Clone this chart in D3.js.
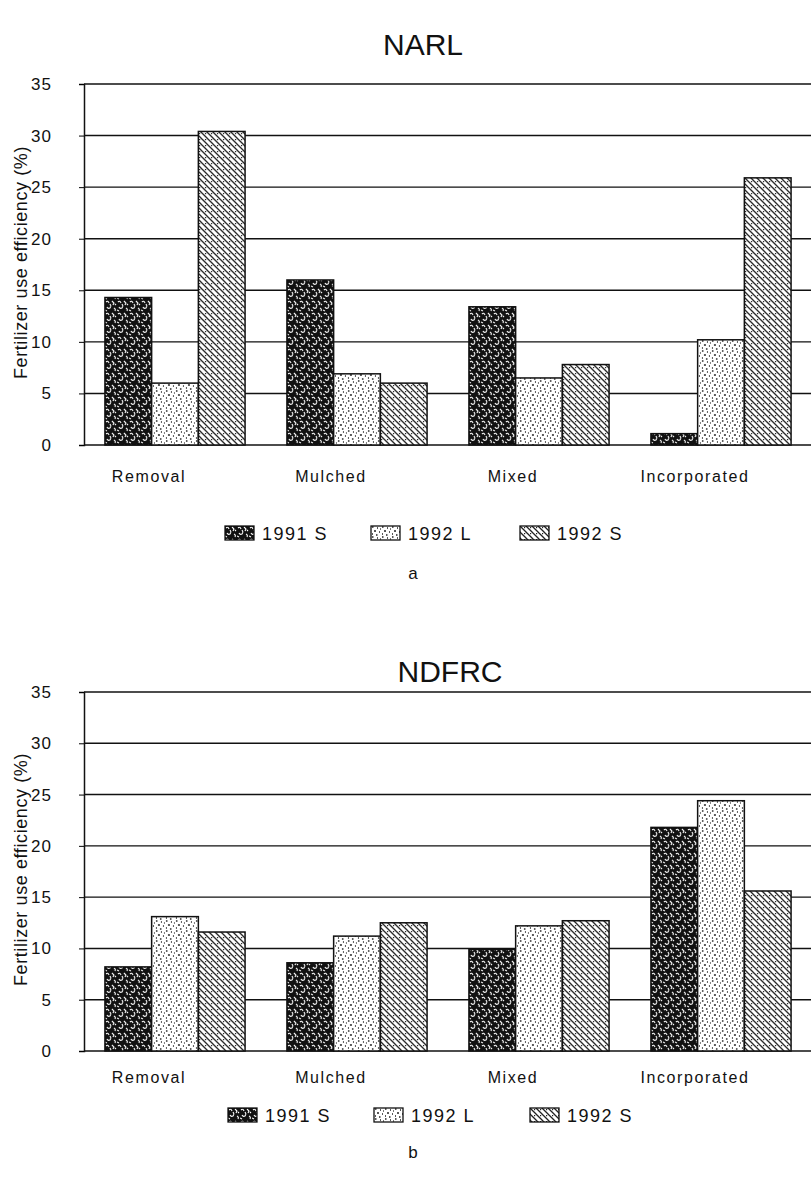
<!DOCTYPE html>
<html lang="en">
<head>
<meta charset="utf-8">
<title>Fertilizer use efficiency</title>
<script src="https://d3js.org/d3.v7.min.js"></script>
<style>
  body { margin: 0; background: #fff; }
  text { font-family: "Liberation Sans", Arial, sans-serif; fill: #111; }
</style>
</head>
<body>
<script>
// categories and series
var categories = ["Removal", "Mulched", "Mixed", "Incorporated"];
var seriesNames = ["1991 S", "1992 L", "1992 S"];
var yTicks = [0, 5, 10, 15, 20, 25, 30, 35];

// panel a: NARL
var narl1991S = [14.3, 16.0, 13.4, 1.1];
var narl1992L = [6.0, 6.9, 6.5, 10.2];
var narl1992S = [30.4, 6.0, 7.8, 25.9];

// panel b: NDFRC
var ndfrc1991S = [8.2, 8.6, 9.9, 21.8];
var ndfrc1992L = [13.1, 11.2, 12.2, 24.4];
var ndfrc1992S = [11.6, 12.5, 12.7, 15.6];

var w = 811, h = 1185;
var left = 84, right = 812;

var svg = d3.select("body").append("svg").attr("width", w).attr("height", h);
svg.append("rect").attr("width", w).attr("height", h).attr("fill", "white");

// fill patterns, roughly like the scanned textures
var defs = svg.append("defs");

var p1 = defs.append("pattern").attr("id", "pat0").attr("patternUnits", "userSpaceOnUse")
  .attr("width", 12).attr("height", 12);
p1.append("rect").attr("width", 12).attr("height", 12).attr("fill", "#111");
p1.append("path").attr("d", "M1 2 q2 -2 3 1 M7 1 l2 2 l-1 2 M2 7 q1 2 3 1 l1 -2 M9 8 q2 1 1 3 M5 4 l1 2 M0 10 l2 1 M10 4 l1 1")
  .attr("stroke", "white").attr("stroke-width", 1.1).attr("fill", "none");

var p2 = defs.append("pattern").attr("id", "pat1").attr("patternUnits", "userSpaceOnUse")
  .attr("width", 10).attr("height", 10);
p2.append("rect").attr("width", 10).attr("height", 10).attr("fill", "white");
p2.append("path").attr("d", "M1 1 h1.5 M6 2 h1 M3 5 h2 M8 6 h1 M1 8 h1 M5 9 h1.5 M9 3 h0.8")
  .attr("stroke", "#222").attr("stroke-width", 1.3);

var p3 = defs.append("pattern").attr("id", "pat2").attr("patternUnits", "userSpaceOnUse")
  .attr("width", 6).attr("height", 6);
p3.append("rect").attr("width", 6).attr("height", 6).attr("fill", "white");
p3.append("path").attr("d", "M-1 -1 L7 7 M-1 5 L1 7 M5 -1 L7 1")
  .attr("stroke", "#222").attr("stroke-width", 1.3);
p3.append("rect").attr("x", 4).attr("y", 1).attr("width", 1.2).attr("height", 1.2).attr("fill", "#222");

var panels = [
  { title: "NARL", tag: "a", titleX: 423, top: 84, bottom: 445, titleY: 55, labelY: 482, legendY: 540, tagY: 579,
    series: [narl1991S, narl1992L, narl1992S] },
  { title: "NDFRC", tag: "b", titleX: 450, top: 692, bottom: 1051, titleY: 682, labelY: 1083, legendY: 1122, tagY: 1158,
    series: [ndfrc1991S, ndfrc1992L, ndfrc1992S] }
];

var x0 = d3.scaleBand().domain(categories).range([left, right]).paddingInner(0.23).paddingOuter(0.115);
var x1 = d3.scaleBand().domain(seriesNames).range([0, x0.bandwidth()]);

panels.forEach(function(p) {
  var y = d3.scaleLinear().domain([0, 35]).range([p.bottom, p.top]);
  var g = svg.append("g");

  // title
  g.append("text").attr("x", p.titleX).attr("y", p.titleY)
    .attr("text-anchor", "middle").attr("font-size", 30).text(p.title);

  // gridlines
  g.append("g").selectAll("line").data(yTicks).enter().append("line")
    .attr("x1", left).attr("x2", w).attr("y1", function(d) { return y(d); }).attr("y2", function(d) { return y(d); })
    .attr("stroke", "#111").attr("stroke-width", 1.4);

  // y axis
  var yAxis = d3.axisLeft(y).tickValues(yTicks).tickSize(5).tickPadding(27);
  var ya = g.append("g").attr("transform", "translate(" + left + ",0)").call(yAxis);
  ya.select(".domain").attr("stroke", "#111").attr("stroke-width", 1.5);
  ya.selectAll("text").attr("font-size", 17).attr("fill", "#111").attr("letter-spacing", 1)
    .attr("font-family", "Liberation Sans, Arial, sans-serif");

  // axis title
  g.append("text").attr("transform", "translate(27," + ((p.top + p.bottom) / 2 - 2) + ") rotate(-90)")
    .attr("text-anchor", "middle").attr("font-size", 18).attr("letter-spacing", 0.6)
    .text("Fertilizer use efficiency (%)");

  // bars
  var groups = g.append("g").selectAll("g").data(categories).enter().append("g")
    .attr("transform", function(c) { return "translate(" + x0(c) + ",0)"; });
  groups.selectAll("rect").data(function(c, i) {
      return p.series.map(function(s, k) { return { name: seriesNames[k], k: k, v: s[i] }; });
    }).enter().append("rect")
    .attr("x", function(d) { return x1(d.name); })
    .attr("width", x1.bandwidth())
    .attr("y", function(d) { return y(d.v); })
    .attr("height", function(d) { return y(0) - y(d.v); })
    .attr("fill", function(d) { return "url(#pat" + d.k + ")"; })
    .attr("stroke", "#111").attr("stroke-width", 1.5);

  // category labels, set a bit left of the bar groups as in the original
  g.append("g").selectAll("text").data(categories).enter().append("text")
    .attr("x", function(c) { return x0(c) + x0.bandwidth() / 2 - 26; })
    .attr("y", p.labelY).attr("text-anchor", "middle").attr("font-size", 16)
    .attr("letter-spacing", 1.6).text(function(c) { return c; });

  // legend
  var legX = p.tag == "a" ? [225, 371, 520] : [228, 374, 530];
  var leg = g.append("g").selectAll("g").data(seriesNames).enter().append("g")
    .attr("transform", function(d, i) { return "translate(" + legX[i] + "," + (p.legendY - 14) + ")"; });
  leg.append("rect").attr("width", 29).attr("height", 14)
    .attr("fill", function(d, i) { return "url(#pat" + i + ")"; })
    .attr("stroke", "#111").attr("stroke-width", 1.3);
  leg.append("text").attr("x", 37).attr("y", 14).attr("font-size", 18).attr("letter-spacing", 1.5)
    .text(function(d) { return d; });

  g.append("text").attr("x", 413).attr("y", p.tagY).attr("text-anchor", "middle")
    .attr("font-size", 17).text(p.tag);
});
</script>
</body>
</html>
